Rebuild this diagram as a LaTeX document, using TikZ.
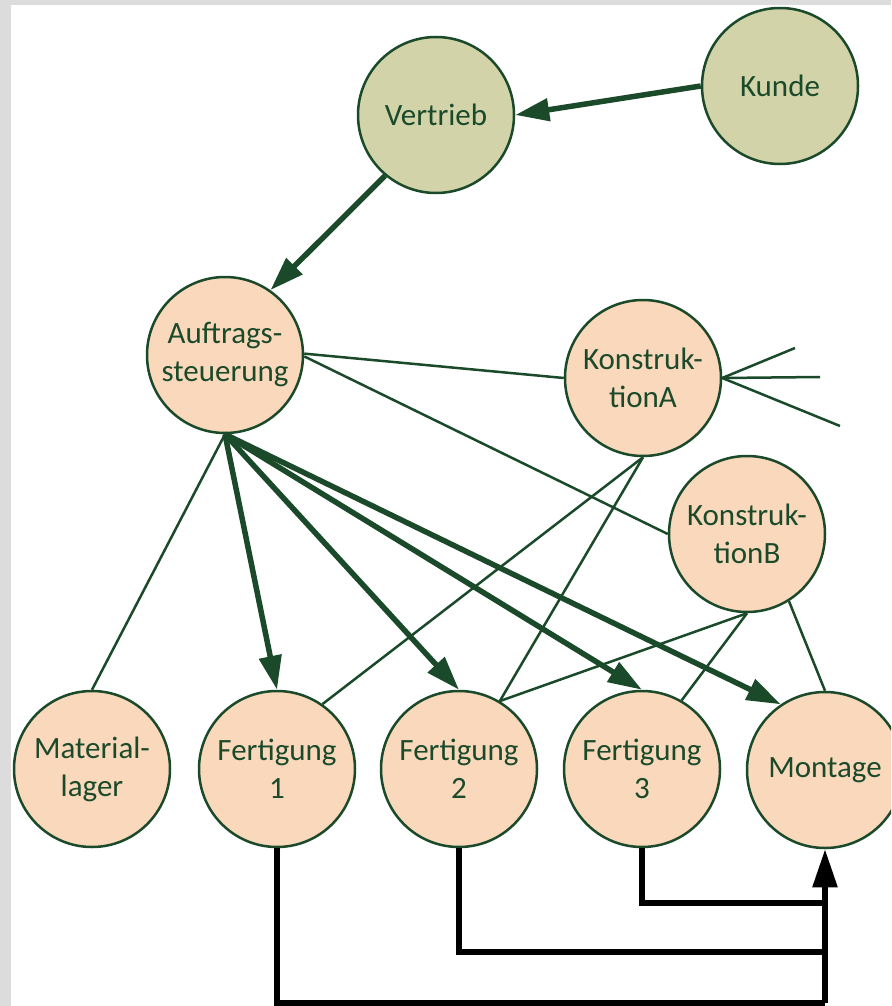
\documentclass[tikz,border=0pt]{standalone}
\usepackage{fontspec}
\setmainfont{Carlito}
\usetikzlibrary{arrows.meta}
\definecolor{dkgreen}{HTML}{1B4A2A}
\definecolor{oliv}{HTML}{D2D3A9}
\definecolor{peach}{HTML}{FAD8BC}
\definecolor{rahmen}{HTML}{DCDCDC}

\begin{document}
\begin{tikzpicture}[
    x = 1pt,
    y = -1pt,
    >={Triangle[length=34pt,width=22pt]},
    unit/.style = {circle, draw=dkgreen, line width=2.5pt, minimum size=156pt,
              inner sep=0pt, align=center, text=dkgreen,
              font=\fontsize{31}{38}\selectfont},
    extern/.style = {unit, fill=oliv},
    intern/.style = {unit, fill=peach},
    flow/.style = {dkgreen, line width=5.5pt},
    link/.style = {dkgreen, line width=2.5pt},
    route/.style = {black, line width=5.5pt, >={Triangle[length=38pt,width=24pt]}},
    ]

\useasboundingbox (0,0) rectangle (891,1006);
\fill[rahmen] (0,0) rectangle (891,1006);
\fill[white] (11,5) rectangle (891,1006);
\clip (0,0) rectangle (891,1006);

\node[extern] (kunde) at (780,86){Kunde};
\node[extern] (vertrieb) at (436,115){Vertrieb};
\node[intern] (auftrag) at (225,355){Auftrags-\\steuerung};
\node[intern] (konst_a) at (643,378){Konstruk-\\tionA};
\node[intern] (konst_b) at (747,534){Konstruk-\\tionB};
\node[intern] (lager) at (92,769){Material-\\lager};
\node[intern] (fert_1) at (277,769){Fertigung\\1};
\node[intern] (fert_2) at (459,769){Fertigung\\2};
\node[intern] (fert_3) at (642,769){Fertigung\\3};
\node[intern] (montage) at (825,770){Montage};

\coordinate (fan_1) at (795,348);
\coordinate (fan_2) at (820,377);
\coordinate (fan_3) at (840,426);
\coordinate (sam_1) at (825,1003);
\coordinate (sam_2) at (825,952);
\coordinate (sam_3) at (825,903);

\draw [flow, ->] (kunde.west) -- (vertrieb.east);
\draw [flow, ->] (vertrieb.230) -- (auftrag.55);

\draw [link] (auftrag.1) -- (konst_a.west);
\draw [link] (auftrag.-1) -- (konst_b.west);
\draw [link] (auftrag.south) -- (lager.north);
\draw [link] (konst_a.east) -- (fan_1);
\draw [link] (konst_a.east) -- (fan_2);
\draw [link] (konst_a.east) -- (fan_3);
\draw [link] (konst_a.south) -- (fert_1.55);
\draw [link] (konst_a.south) -- (fert_2.59);
\draw [link] (konst_b.south) -- (fert_2.59);
\draw [link] (konst_b.south) -- (fert_3.60);
\draw [link] (konst_b.-58) -- (montage.north);

\draw [flow, ->] (auftrag.south) -- (fert_1.north);
\draw [flow, ->] (auftrag.south) -- (fert_2.north);
\draw [flow, ->] (auftrag.south) -- (fert_3.north);
\draw [flow, ->] (auftrag.south) -- (montage.124);

\draw [route] (fert_1.south) |- (sam_1);
\draw [route] (fert_2.south) |- (sam_2);
\draw [route] (fert_3.south) |- (sam_3);
\draw [route, ->] (sam_1) -- (montage.south);

\end{tikzpicture}
\end{document}
